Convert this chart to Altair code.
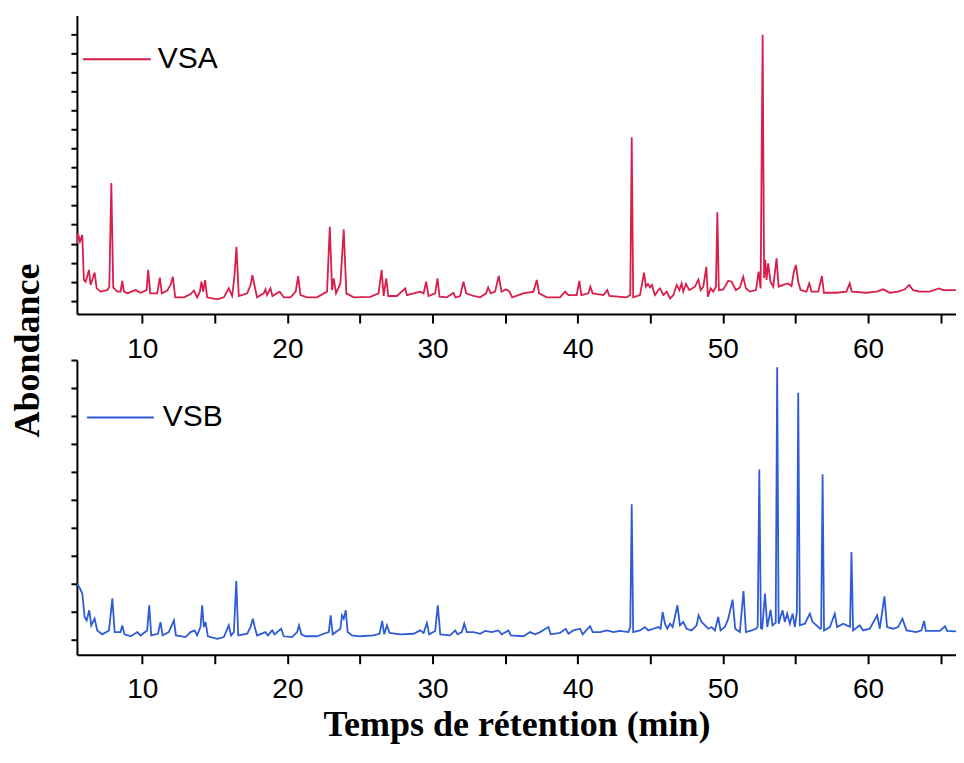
import altair as alt
import pandas as pd

# ---------------- data ----------------
vsa_t = [5.50, 5.57, 5.71, 5.87, 5.98, 6.10, 6.33, 6.44, 6.72, 6.86, 7.13, 7.59, 7.73, 7.87, 8.00,
         8.28, 8.51, 8.62, 8.74, 8.97, 9.54, 9.88, 10.30, 10.41, 10.55, 11.03, 11.21, 11.35, 11.72,
         11.95, 12.11, 12.27, 12.87, 13.33, 13.56, 13.78, 13.97, 14.08, 14.20, 14.33, 14.47, 15.16,
         15.62, 15.96, 16.19, 16.35, 16.49, 16.65, 17.23, 17.46, 17.59, 17.73, 17.91, 18.37, 18.49,
         18.60, 18.83, 18.97, 19.47, 19.75, 20.21, 20.57, 20.74, 20.90, 21.36, 22.04, 22.73, 22.92,
         23.08, 23.19, 23.35, 23.65, 23.88, 24.06, 24.57, 25.71, 26.28, 26.49, 26.63, 26.81, 26.95,
         27.54, 28.12, 28.23, 28.69, 29.15, 29.38, 29.56, 29.72, 30.18, 30.34, 30.48, 30.98, 31.44,
         31.58, 31.90, 32.13, 32.32, 32.82, 33.28, 33.69, 33.83, 34.01, 34.31, 34.56, 34.75, 35.07,
         35.30, 35.48, 36.26, 36.95, 37.18, 37.34, 37.87, 38.78, 39.13, 39.36, 39.93, 40.11, 40.25,
         40.73, 40.87, 41.03, 41.77, 42.04, 42.18, 43.37, 43.62, 43.72, 43.82, 44.29, 44.57, 44.70,
         44.84, 44.98, 45.12, 45.21, 45.32, 45.44, 45.55, 45.67, 45.90, 46.13, 46.36, 46.59, 46.82,
         47.00, 47.16, 47.27, 47.46, 47.69, 48.08, 48.31, 48.47, 48.65, 48.86, 48.97, 49.16, 49.34,
         49.52, 49.62, 49.72, 50.03, 50.37, 50.60, 50.90, 51.17, 51.40, 51.59, 51.86, 52.28, 52.46,
         52.60, 52.74, 52.84, 52.92, 53.01, 53.12, 53.28, 53.47, 53.70, 53.84, 54.16, 54.50, 54.73,
         54.89, 55.03, 55.19, 55.35, 55.76, 55.95, 56.11, 56.57, 56.82, 56.96, 57.83, 58.51, 58.74,
         58.88, 59.89, 60.58, 61.04, 61.50, 62.07, 62.53, 62.83, 63.10, 63.56, 64.25, 64.89, 65.17,
         66.31, 66.50]
vsa_v = [3.00, 3.55, 3.11, 3.46, 1.09, 1.00, 1.62, 0.83, 1.48, 0.65, 0.48, 0.56, 0.74, 6.19, 0.70,
         0.48, 0.48, 1.04, 0.48, 0.39, 0.56, 0.42, 0.56, 1.62, 0.39, 0.39, 1.21, 0.39, 0.53,
         0.83, 1.26, 0.18, 0.18, 0.35, 0.53, 0.18, 0.48, 1.00, 0.48, 1.09, 0.18, 0.07,
         0.18, 0.65, 0.25, 1.26, 2.84, 0.25, 0.39, 0.83, 1.35, 0.83, 0.18, 0.39, 0.60,
         0.30, 0.65, 0.25, 0.48, 0.18, 0.18, 0.48, 1.30, 0.30, 0.18, 0.18, 0.48, 3.89,
         0.56, 1.18, 0.39, 0.91, 3.76, 0.39, 0.18, 0.20, 0.39, 1.62, 0.25, 1.18, 0.25,
         0.25, 0.65, 0.30, 0.39, 0.48, 0.39, 1.00, 0.25, 0.39, 1.18, 0.21, 0.18, 0.42,
         0.18, 0.25, 1.00, 0.39, 0.25, 0.18, 0.39, 0.70, 0.39, 0.48, 1.30, 0.48, 0.60,
         0.48, 0.18, 0.39, 0.48, 1.09, 0.39, 0.18, 0.18, 0.48, 0.30, 0.30, 1.04, 0.30,
         0.39, 0.74, 0.39, 0.30, 0.56, 0.25, 0.18, 0.30, 8.60, 0.18, 0.30, 1.47, 0.74,
         0.88, 0.70, 0.83, 0.56, 0.30, 0.42, 0.56, 0.65, 0.30, 0.48, 0.12, 0.30, 0.83,
         0.56, 0.91, 0.48, 0.88, 0.56, 0.74, 1.12, 0.56, 0.74, 1.78, 0.21, 0.65, 0.48,
         0.74, 4.65, 0.56, 0.60, 1.05, 1.00, 0.56, 0.70, 1.26, 0.65, 0.48, 0.56, 1.53,
         0.65, 13.98, 1.20, 2.14, 1.09, 1.96, 1.00, 0.74, 2.23, 0.74, 0.83, 0.91, 0.77,
         1.53, 1.88, 1.00, 0.56, 0.48, 0.91, 0.48, 0.48, 1.30, 0.42, 0.42, 0.48, 0.91,
         0.48, 0.42, 0.48, 0.60, 0.42, 0.48, 0.60, 0.83, 0.56, 0.48, 0.48, 0.65, 0.56,
         0.56, 0.55]

vsb_t = [5.50, 5.71, 5.87, 6.03, 6.17, 6.35, 6.49, 6.72, 6.90, 7.25, 7.71, 7.94, 8.10, 8.51, 8.62,
         8.78, 9.20, 9.66, 9.88, 10.34, 10.48, 10.62, 11.08, 11.26, 11.40, 11.83, 12.18, 12.32,
         12.98, 13.33, 13.60, 13.78, 14.01, 14.13, 14.24, 14.36, 14.52, 15.16, 15.62, 15.96, 16.12,
         16.31, 16.48, 16.61, 17.23, 17.46, 17.62, 17.75, 17.91, 18.49, 18.65, 18.95, 19.11, 19.57,
         19.75, 20.32, 20.67, 20.80, 20.96, 21.24, 22.04, 22.50, 22.85, 22.98, 23.12, 23.65, 23.76,
         23.88, 24.02, 24.15, 24.45, 25.02, 25.94, 26.35, 26.53, 26.67, 26.86, 27.04, 27.77, 28.69,
         29.15, 29.38, 29.61, 29.77, 30.18, 30.36, 30.53, 31.21, 31.56, 31.72, 32.02, 32.18, 32.36,
         32.82, 33.28, 33.62, 34.08, 34.54, 34.77, 35.23, 35.39, 36.26, 36.72, 37.06, 37.41, 37.98,
         38.14, 38.78, 39.17, 39.36, 39.70, 40.16, 40.34, 40.85, 41.03, 41.54, 42.00, 42.46, 42.91,
         43.49, 43.62, 43.72, 43.82, 44.29, 44.63, 44.86, 45.21, 45.55, 45.71, 45.85, 46.01, 46.17,
         46.36, 46.54, 46.87, 47.04, 47.27, 47.50, 47.85, 48.19, 48.33, 48.54, 48.77, 49.00, 49.22,
         49.45, 49.68, 49.84, 50.14, 50.37, 50.67, 50.85, 51.17, 51.42, 51.59, 51.98, 52.28, 52.40,
         52.51, 52.62, 52.71, 52.90, 53.06, 53.29, 53.42, 53.64, 53.74, 53.84, 53.97, 54.11, 54.27,
         54.43, 54.62, 54.80, 54.96, 55.10, 55.19, 55.30, 55.65, 55.99, 56.18, 56.45, 56.68, 56.77,
         56.87, 56.97, 57.37, 57.71, 57.87, 58.29, 58.52, 58.76, 58.86, 58.97, 59.43, 59.66, 60.12,
         60.63, 60.81, 61.13, 61.31, 61.73, 62.07, 62.37, 62.65, 63.33, 63.68, 63.86, 63.98, 64.94,
         65.31, 65.45, 66.50]
vsb_v = [2.00, 1.82, 1.64, 0.80, 0.68, 1.04, 0.50, 0.74, 0.32, 0.18, 0.32, 1.47, 0.26, 0.26, 0.50,
         0.18, 0.11, 0.26, 0.14, 0.32, 1.22, 0.14, 0.20, 0.62, 0.14, 0.26, 0.68, 0.14,
         0.08, 0.26, 0.32, 0.14, 0.44, 1.22, 0.44, 0.62, 0.11, 0.02, 0.08, 0.50, 0.14,
         0.26, 2.09, 0.14, 0.20, 0.44, 0.74, 0.44, 0.14, 0.26, 0.14, 0.32, 0.18, 0.38,
         0.11, 0.08, 0.26, 0.50, 0.18, 0.11, 0.11, 0.20, 0.26, 0.86, 0.18, 0.38, 0.86,
         0.74, 1.04, 0.26, 0.14, 0.11, 0.14, 0.20, 0.66, 0.18, 0.50, 0.23, 0.18, 0.20,
         0.32, 0.23, 0.59, 0.18, 0.30, 1.22, 0.18, 0.14, 0.32, 0.18, 0.26, 0.56, 0.26,
         0.26, 0.20, 0.30, 0.26, 0.32, 0.18, 0.32, 0.14, 0.11, 0.26, 0.18, 0.26, 0.44,
         0.18, 0.23, 0.38, 0.20, 0.32, 0.38, 0.18, 0.47, 0.26, 0.26, 0.32, 0.26, 0.30,
         0.26, 0.44, 4.84, 0.26, 0.32, 0.44, 0.32, 0.38, 0.44, 0.38, 0.98, 0.56, 0.38,
         0.56, 0.44, 1.22, 0.50, 0.62, 0.38, 0.32, 0.50, 0.86, 0.62, 0.50, 0.38, 0.44,
         0.32, 0.80, 0.32, 0.44, 0.74, 1.42, 0.38, 0.26, 1.73, 0.26, 0.32, 0.38, 0.45,
         6.08, 0.40, 0.38, 1.64, 0.44, 1.06, 0.50, 0.60, 9.74, 0.56, 0.80, 1.04, 0.62,
         0.92, 0.56, 0.92, 0.44, 1.00, 8.83, 0.50, 0.56, 0.92, 0.62, 0.50, 0.38, 0.40,
         5.91, 0.32, 0.44, 0.92, 0.44, 0.56, 0.50, 0.45, 3.13, 0.32, 0.50, 0.32, 0.38,
         0.86, 0.38, 1.54, 0.44, 0.38, 0.44, 0.74, 0.32, 0.26, 0.32, 0.66, 0.30, 0.30,
         0.47, 0.30, 0.28]

x_tick_values = [10, 15, 20, 25, 30, 35, 40, 45, 50, 55, 60, 65]
top_y_ticks = list(range(0, 15))
bottom_y_ticks = list(range(0, 11))

RED = "#DA1E4C"
BLUE = "#2F5CD6"

df_a = pd.DataFrame({"t": vsa_t, "v": vsa_v, "series": "VSA"})
df_b = pd.DataFrame({"t": vsb_t, "v": vsb_v, "series": "VSB"})

x_scale = alt.Scale(domain=[5.5, 66.06], nice=False, zero=False)
PLOT_W = 880


def x_axis(title):
    kw = dict(values=x_tick_values, grid=False, tickSize=9, labelPadding=12,
              labelFlush=False, labelOverlap=False,
              labelExpr="datum.value % 10 === 0 ? datum.label : ''")
    if title:
        kw.update(title=title, titlePadding=4)
    else:
        kw.update(title=None)
    return alt.Axis(**kw)


top = alt.Chart(df_a).mark_line(strokeWidth=1.8, clip=True).encode(
    x=alt.X("t:Q", scale=x_scale, axis=x_axis(None)),
    y=alt.Y("v:Q", scale=alt.Scale(domain=[-0.7, 15], nice=False, zero=False),
            axis=alt.Axis(values=top_y_ticks, labels=False, grid=False, tickSize=6,
                          title="Abondance", titleX=-38, titleY=335,
                          titleBaseline="alphabetic", titleAngle=-90)),
    color=alt.Color("series:N", scale=alt.Scale(domain=["VSA"], range=[RED]),
                    legend=alt.Legend(orient="none", legendX=5, legendY=9, title=None,
                                      symbolType="stroke", symbolSize=4624,
                                      symbolStrokeWidth=2, labelOffset=6, padding=0)),
).properties(width=PLOT_W, height=299)

bottom = alt.Chart(df_b).mark_line(strokeWidth=1.8, clip=True).encode(
    x=alt.X("t:Q", scale=x_scale, axis=x_axis("Temps de rétention (min)")),
    y=alt.Y("v:Q", scale=alt.Scale(domain=[-0.55, 10], nice=False, zero=False),
            axis=alt.Axis(values=bottom_y_ticks, labels=False, grid=False, tickSize=6,
                          title=None)),
    color=alt.Color("series:N", scale=alt.Scale(domain=["VSB"], range=[BLUE]),
                    legend=alt.Legend(orient="none", legendX=9, legendY=23, title=None,
                                      symbolType="stroke", symbolSize=4489,
                                      symbolStrokeWidth=2, labelOffset=8, padding=0)),
).properties(width=PLOT_W, height=295)

chart = alt.vconcat(top, bottom, spacing=46, bounds="flush").resolve_scale(
    color="independent"
).properties(
    padding={"left": 2, "top": 7, "right": 0, "bottom": 2}
).configure_view(stroke=None).configure_axis(
    domainColor="black", domainWidth=2, tickColor="black", tickWidth=2,
    labelColor="black", labelFont="Liberation Sans", labelFontSize=28,
    titleFont="Liberation Serif", titleFontWeight="bold", titleFontSize=36,
    titleColor="black",
).configure_legend(
    labelFont="Liberation Sans", labelFontSize=30, labelColor="black", labelLimit=200,
)

chart.save("out.html", embed_options={"renderer": "svg", "actions": False})
